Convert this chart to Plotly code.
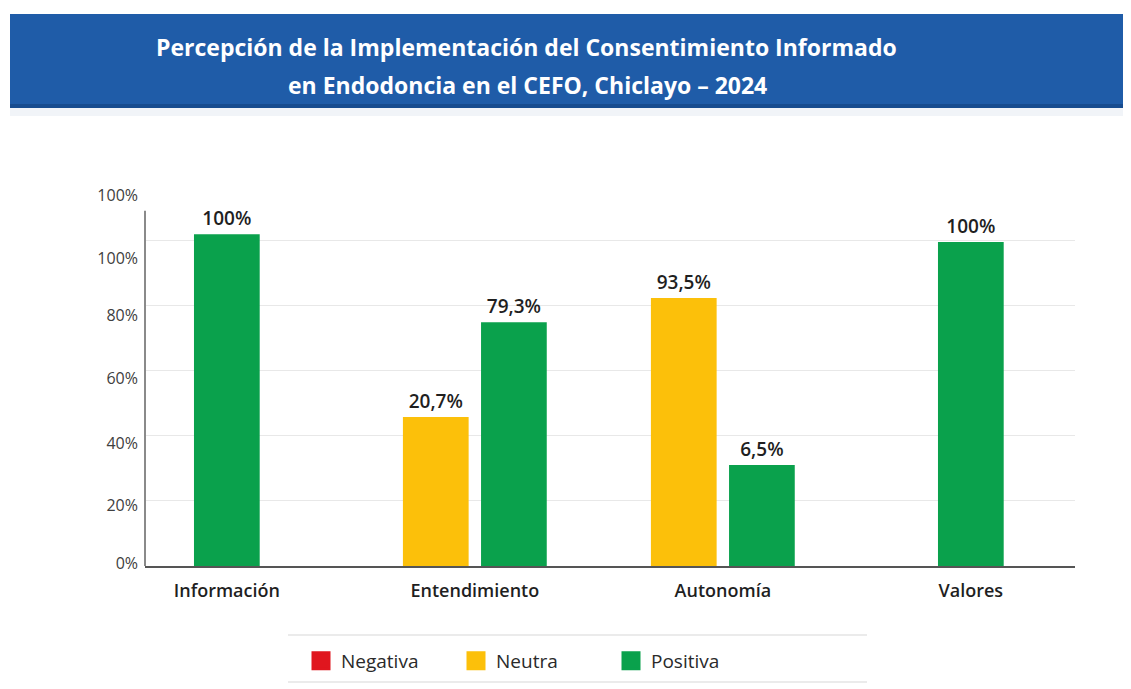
import plotly.graph_objects as go

# ---------------- data ----------------
categories = ["Información", "Entendimiento", "Autonomía", "Valores"]
series_names = ["Negativa", "Neutra", "Positiva"]
# bar heights as drawn in the picture (in % of the axis scale)
neutra_drawn = [None, 45.7, 82.2, None]
positiva_drawn = [101.8, 74.8, 31.0, 99.4]
# value labels printed above the bars
neutra_labels = [None, "20,7%", "93,5%", None]
positiva_labels = ["100%", "79,3%", "6,5%", "100%"]
# y-axis tick labels (as printed) and where they sit on the scale
ytick_text = ["0%", "20%", "40%", "60%", "80%", "100%", "100%"]
ytick_pos = [0.9, 18.7, 37.7, 57.4, 77.0, 94.5, 113.8]
grid_vals = [20, 40, 60, 80, 100]

title_line1 = "Percepción de la Implementación del Consentimiento Informado"
title_line2 = "en Endodoncia en el CEFO, Chiclayo – 2024"

# ---------------- styles ----------------
COLORS = {"Negativa": "#E0161E", "Neutra": "#FCC00A", "Positiva": "#0AA14C"}
W, H = 1131, 689
OFF = 8  # page body margin
PL, PT = 145, 185          # plot area top-left on the page
PW, PH = 930, 381          # plot area size
ML, MT = PL - OFF, PT - OFF
MR = W - ML - PW
MB = H - MT - PH
BOTTOM = PT + PH


def px_x(x):
    return (x - PL) / PW


def px_y(y):
    return (BOTTOM - y) / PH


BAR_W = 0.265
GAP = 0.05

x_idx = list(range(len(categories)))

# offsets: pair side by side when both exist, centred when only one
neu_off, pos_off = [], []
for n, p in zip(neutra_drawn, positiva_drawn):
    if n is not None and p is not None:
        neu_off.append(-(BAR_W + GAP / 2))
        pos_off.append(GAP / 2)
    else:
        neu_off.append(-BAR_W / 2)
        pos_off.append(-BAR_W / 2)

fig = go.Figure()

label_font = dict(family="Open Sans", size=19, color="#1f1f1f", weight=600)

fig.add_trace(go.Bar(
    x=x_idx, y=neutra_drawn, width=[BAR_W] * 4, offset=neu_off,
    marker=dict(color=COLORS["Neutra"], line=dict(width=0)),
    text=neutra_labels, textposition="outside", textfont=label_font,
    cliponaxis=False, showlegend=False, hoverinfo="skip"))
fig.add_trace(go.Bar(
    x=x_idx, y=positiva_drawn, width=[BAR_W] * 4, offset=pos_off,
    marker=dict(color=COLORS["Positiva"], line=dict(width=0)),
    text=positiva_labels, textposition="outside", textfont=label_font,
    cliponaxis=False, showlegend=False, hoverinfo="skip"))

# legend entries (square swatches)
for name in series_names:
    fig.add_trace(go.Scatter(
        x=[None], y=[None], mode="markers", name=name,
        marker=dict(symbol="square", size=16, color=COLORS[name],
                    line=dict(color=COLORS[name], width=3))))

shapes = [
    # title banner
    dict(type="rect", xref="paper", yref="paper",
         x0=px_x(10), x1=px_x(W + 20), y0=px_y(108), y1=px_y(14),
         fillcolor="#1F5CA8", line=dict(width=0), layer="below"),
    dict(type="rect", xref="paper", yref="paper",
         x0=px_x(10), x1=px_x(W + 20), y0=px_y(108), y1=px_y(104),
         fillcolor="#174C8F", line=dict(width=0), layer="below"),
    # faint shadow under the banner
    dict(type="rect", xref="paper", yref="paper",
         x0=px_x(10), x1=px_x(W + 20), y0=px_y(116), y1=px_y(108),
         fillcolor="#F1F4F8", line=dict(width=0), layer="below"),
    # y axis line
    dict(type="line", xref="paper", yref="y", x0=0, x1=0, y0=0, y1=109,
         line=dict(color="#8A8A8A", width=2)),
    # legend separator lines
    dict(type="line", xref="paper", yref="paper",
         x0=px_x(288), x1=px_x(867), y0=px_y(635), y1=px_y(635),
         line=dict(color="#E4E4E4", width=1.5)),
    dict(type="line", xref="paper", yref="paper",
         x0=px_x(288), x1=px_x(867), y0=px_y(682), y1=px_y(682),
         line=dict(color="#E4E4E4", width=1.5)),
]

title_font = dict(family="Open Sans", size=23, color="white", weight=700)
annotations = [
    dict(text=title_line1, xref="paper", yref="paper", x=px_x(526), y=px_y(47),
         xanchor="center", yanchor="middle", showarrow=False, font=title_font),
    dict(text=title_line2, xref="paper", yref="paper", x=px_x(527), y=px_y(85),
         xanchor="center", yanchor="middle", showarrow=False, font=title_font),
]

fig.update_layout(
    width=W, height=H,
    margin=dict(l=ML, r=MR, t=MT, b=MB),
    paper_bgcolor="white", plot_bgcolor="white",
    font=dict(family="Open Sans", color="#333"),
    barmode="overlay",
    shapes=shapes, annotations=annotations,
    legend=dict(orientation="h", x=px_x(301), xanchor="left",
                y=px_y(661), yanchor="middle",
                font=dict(family="Open Sans", size=19, color="#2a2a2a"),
                entrywidth=110, bgcolor="rgba(0,0,0,0)"),
    xaxis=dict(
        range=[-0.33, 3.42], tickmode="array", tickvals=x_idx,
        ticktext=categories, showgrid=False, zeroline=False,
        showline=True, linecolor="#555", linewidth=1.5, ticks="",
        tickfont=dict(family="Open Sans", size=18, color="#1f1f1f", weight=600),
        ticklabelstandoff=8,
    ),
    yaxis=dict(
        range=[0, PH / 3.26], tickmode="array", tickvals=ytick_pos,
        ticktext=ytick_text, showgrid=False, zeroline=False, showline=False,
        ticks="", tickfont=dict(family="Open Sans", size=16, color="#404040"),
        ticklabelstandoff=6,
        minor=dict(tickmode="array", tickvals=grid_vals, showgrid=True,
                   gridcolor="#E8E8E8", gridwidth=1.2, ticks=""),
    ),
)

fig.write_html("out.html")
